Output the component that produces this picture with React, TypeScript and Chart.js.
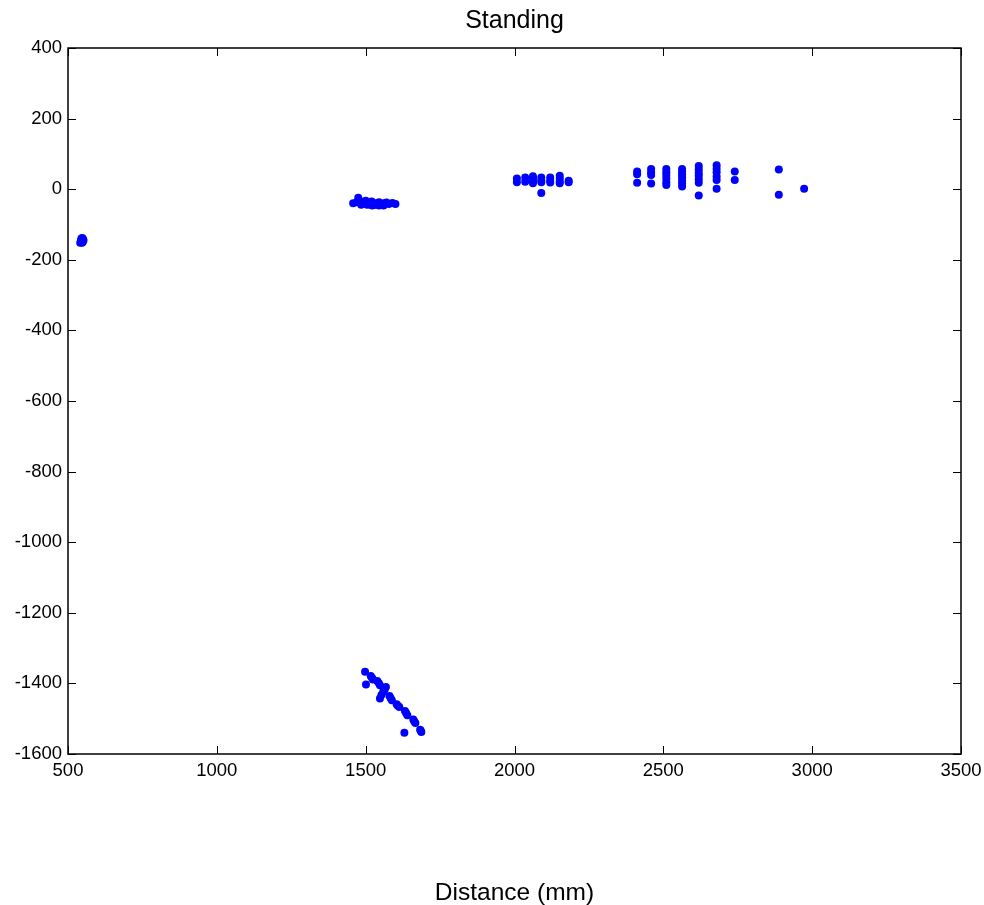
import React, { useEffect, useRef } from 'react';
import { Chart, registerables } from 'chart.js';

Chart.register(...registerables);

// Axis ticks
const xTickValues = [500, 1000, 1500, 2000, 2500, 3000, 3500];
const yTickValues = [-1600, -1400, -1200, -1000, -800, -600, -400, -200, 0, 200, 400];

// Cluster near x≈550
const clusterAX = [545, 548, 551, 546, 549, 547, 552, 544, 541];
const clusterAY = [-140, -138, -142, -147, -150, -152, -145, -144, -152];

// Cluster near x≈1530, y≈-40
const clusterBX = [1458, 1470, 1475, 1482, 1490, 1498, 1505, 1510, 1515, 1520, 1527, 1532, 1538, 1545, 1550, 1556, 1562, 1570, 1578, 1590, 1600, 1522, 1545, 1500, 1485, 1560];
const clusterBY = [-40, -37, -24, -34, -40, -36, -44, -38, -43, -35, -45, -40, -44, -37, -42, -45, -40, -38, -42, -39, -42, -46, -46, -33, -44, -46];

// Cluster near x≈2100, y≈25
const clusterCX = [2008, 2008, 2036, 2036, 2062, 2062, 2062, 2062, 2090, 2090, 2090, 2090, 2120, 2120, 2120, 2152, 2152, 2152, 2152, 2182, 2182];
const clusterCY = [30, 20, 33, 21, 37, 30, 24, 17, 33, 25, 20, -11, 33, 25, 19, 38, 30, 22, 17, 24, 20];

// Cluster near x≈2400–3000, y≈0–70
const clusterDX = [2412, 2412, 2412, 2459, 2459, 2459, 2459, 2510, 2510, 2510, 2510, 2510, 2510, 2563, 2563, 2563, 2563, 2563, 2563, 2563, 2619, 2619, 2619, 2619, 2619, 2619, 2619, 2679, 2679, 2679, 2679, 2679, 2679, 2740, 2740, 2888, 2888, 2973];
const clusterDY = [50, 42, 18, 57, 48, 40, 16, 57, 48, 40, 30, 20, 12, 57, 50, 42, 34, 25, 16, 8, 66, 56, 46, 38, 28, 18, -18, 68, 58, 48, 36, 26, 1, 50, 26, 56, -16, 1];

// Diagonal cluster near x≈1500–1690, y≈-1370 to -1540
const clusterEX = [1498, 1517, 1524, 1501, 1539, 1548, 1568, 1559, 1548, 1580, 1588, 1604, 1613, 1632, 1640, 1660, 1667, 1630, 1683, 1687, 1521, 1544, 1564, 1553, 1584, 1608, 1636, 1663, 1685];
const clusterEY = [-1367, -1379, -1389, -1403, -1393, -1405, -1410, -1424, -1443, -1436, -1448, -1459, -1467, -1478, -1490, -1502, -1512, -1540, -1531, -1538, -1384, -1399, -1417, -1433, -1442, -1463, -1484, -1507, -1534];

const FONT = 'Arial, "Liberation Sans", Helvetica, sans-serif';

function toPoints(xs: number[], ys: number[]) {
  return xs.map((x, i) => ({ x, y: ys[i] }));
}

const allPoints = [
  ...toPoints(clusterAX, clusterAY),
  ...toPoints(clusterBX, clusterBY),
  ...toPoints(clusterCX, clusterCY),
  ...toPoints(clusterDX, clusterDY),
  ...toPoints(clusterEX, clusterEY),
];

const framePlugin = {
  id: 'matlabFrame',
  beforeDatasetsDraw(chart: any) {
    const { ctx, chartArea } = chart;
    const { left, right, top, bottom } = chartArea;
    const xs = chart.scales.x;
    const ys = chart.scales.y;
    const tl = 8;
    ctx.save();
    ctx.strokeStyle = '#000';
    ctx.lineWidth = 1.5;
    ctx.beginPath();
    ctx.rect(left, top, right - left, bottom - top);
    ctx.stroke();
    ctx.lineWidth = 1;
    ctx.beginPath();
    xTickValues.forEach((v) => {
      const px = Math.round(xs.getPixelForValue(v)) + 0.5;
      ctx.moveTo(px, bottom);
      ctx.lineTo(px, bottom - tl);
      ctx.moveTo(px, top);
      ctx.lineTo(px, top + tl);
    });
    yTickValues.forEach((v) => {
      const py = Math.round(ys.getPixelForValue(v)) + 0.5;
      ctx.moveTo(left, py);
      ctx.lineTo(left + tl, py);
      ctx.moveTo(right, py);
      ctx.lineTo(right - tl, py);
    });
    ctx.stroke();
    ctx.restore();
  },
};

export default function App() {
  const canvasRef = useRef<HTMLCanvasElement | null>(null);

  useEffect(() => {
    if (!canvasRef.current) return;
    const chart = new Chart(canvasRef.current, {
      type: 'scatter',
      data: {
        datasets: [
          {
            label: 'Standing',
            data: allPoints,
            backgroundColor: '#0000ff',
            borderColor: '#0000ff',
            borderWidth: 0,
            pointRadius: 4,
            pointHoverRadius: 4,
          },
        ],
      },
      options: {
        animation: false,
        responsive: false,
        devicePixelRatio: 1,
        layout: { padding: { left: 0, right: 23, top: 0, bottom: 0 } },
        plugins: {
          legend: { display: false },
          tooltip: { enabled: false },
          title: {
            display: true,
            text: 'Standing',
            fullSize: false,
            color: '#000',
            font: { family: FONT, size: 25, weight: 'normal', lineHeight: 1.2 },
            padding: { top: 6, bottom: 12 },
          },
        },
        scales: {
          x: {
            type: 'linear',
            position: 'bottom',
            min: 500,
            max: 3500,
            afterBuildTicks: (scale: any) => {
              scale.ticks = xTickValues.map((v) => ({ value: v }));
            },
            afterFit: (scale: any) => {
              scale.height = 151;
              scale.paddingLeft = 0;
              scale.paddingRight = 0;
            },
            ticks: {
              stepSize: 500,
              autoSkip: false,
              maxRotation: 0,
              padding: 6,
              color: '#000',
              font: { family: FONT, size: 18.5 },
              callback: (v: any) => String(v),
            },
            grid: { display: false, drawTicks: false },
            border: { display: false },
            title: {
              display: true,
              text: 'Distance (mm)',
              color: '#000',
              font: { family: FONT, size: 24.5, lineHeight: 1 },
              padding: { top: 0, bottom: 0 },
            },
          },
          y: {
            type: 'linear',
            min: -1600,
            max: 400,
            afterBuildTicks: (scale: any) => {
              scale.ticks = yTickValues.map((v) => ({ value: v }));
            },
            afterFit: (scale: any) => {
              scale.width = 68;
              scale.paddingTop = 0;
              scale.paddingBottom = 0;
            },
            ticks: {
              stepSize: 200,
              autoSkip: false,
              padding: 6,
              color: '#000',
              font: { family: FONT, size: 18.5 },
              callback: (v: any) => String(v),
            },
            grid: { display: false, drawTicks: false },
            border: { display: false },
          },
        },
      },
      plugins: [framePlugin],
    } as any);
    return () => chart.destroy();
  }, []);

  return (
    <div style={{ position: 'absolute', left: 0, top: 0, width: 984, height: 905, background: '#fff' }}>
      <canvas ref={canvasRef} width={984} height={905} />
    </div>
  );
}
